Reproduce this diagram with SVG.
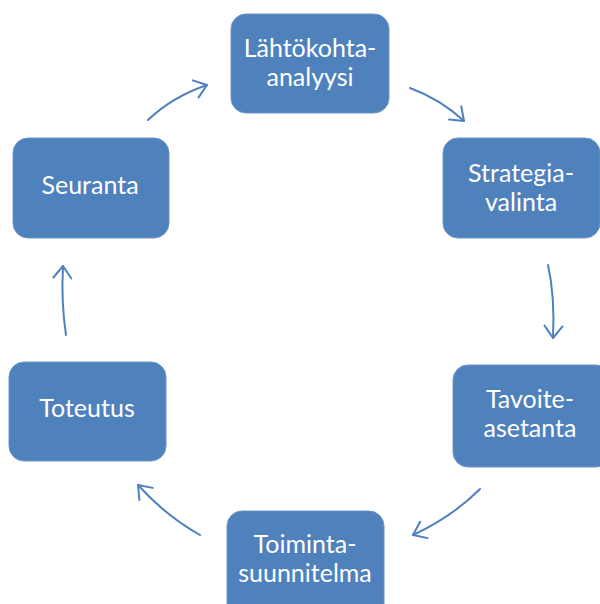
<svg xmlns="http://www.w3.org/2000/svg" width="600" height="604" viewBox="0 0 600 604">
<defs>
<style>
.box{fill:#4F81BD;stroke:#6C94C6;stroke-width:1}
.t{font-family:Lato,"Liberation Sans",sans-serif;font-size:25px;fill:#FFFFFF;text-anchor:middle}
.c{fill:none;stroke:#4F81BD;stroke-width:2;stroke-linecap:round}
</style>
<marker id="ah" markerUnits="userSpaceOnUse" markerWidth="30" markerHeight="30" refX="15" refY="15" orient="auto" overflow="visible">
<path d="M3,6 L15,15 L3,24" fill="none" stroke="#4F81BD" stroke-width="2" stroke-linecap="round" stroke-linejoin="round"/>
</marker>
</defs>
<rect width="600" height="604" fill="#FFFFFF"/>
<g id="connectors">
<path class="c" d="M148,120 Q172,97 207,85" marker-end="url(#ah)"/>
<path class="c" d="M410,88 Q440,99 464,121" marker-end="url(#ah)"/>
<path class="c" d="M548,265 Q555,296 553,338" marker-end="url(#ah)"/>
<path class="c" d="M480,489 Q452,517 413,535" marker-end="url(#ah)"/>
<path class="c" d="M200,535 Q166,516 138,485" marker-end="url(#ah)"/>
<path class="c" d="M66,335 Q61,302 63,266" marker-end="url(#ah)"/>
</g>
<g id="lahtokohta">
<rect class="box" x="231" y="14" width="158" height="99" rx="15"/>
<text class="t" x="310" y="57">Lähtökohta-</text>
<text class="t" x="310" y="86">analyysi</text>
</g>
<g id="strategia">
<rect class="box" x="443" y="138" width="157" height="100" rx="15"/>
<text class="t" x="521" y="182">Strategia-</text>
<text class="t" x="521" y="211">valinta</text>
</g>
<g id="tavoite">
<rect class="box" x="453" y="365" width="158" height="102" rx="15"/>
<text class="t" x="530" y="408">Tavoite-</text>
<text class="t" x="530" y="437">asetanta</text>
</g>
<g id="toiminta">
<rect class="box" x="227" y="511" width="157" height="110" rx="15"/>
<text class="t" x="305" y="553">Toiminta-</text>
<text class="t" x="305" y="582">suunnitelma</text>
</g>
<g id="toteutus">
<rect class="box" x="9" y="362" width="157" height="99" rx="15"/>
<text class="t" x="87" y="417">Toteutus</text>
</g>
<g id="seuranta">
<rect class="box" x="13" y="138" width="156" height="100" rx="15"/>
<text class="t" x="90" y="194">Seuranta</text>
</g>
</svg>
